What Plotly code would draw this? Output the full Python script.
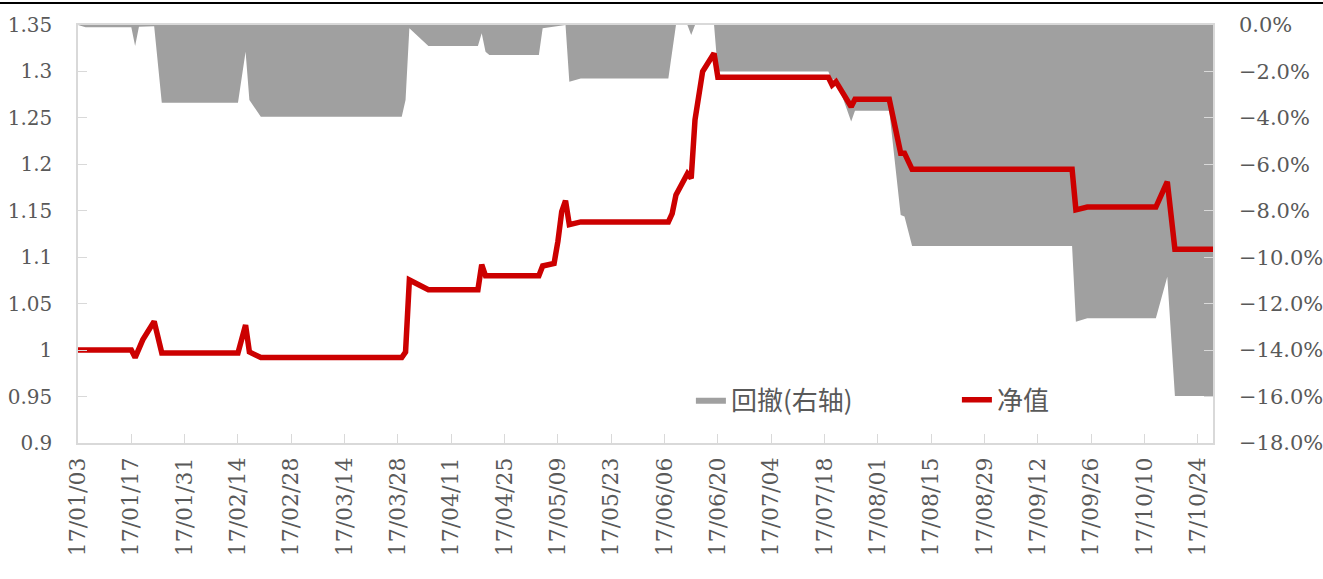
import plotly.graph_objects as go

# Net value (净值) vertices
nav_dates = [
    "2017-01-03", "2017-01-17", "2017-01-18", "2017-01-20", "2017-01-23", "2017-01-25",
    "2017-02-14", "2017-02-16", "2017-02-17", "2017-02-20", "2017-03-29", "2017-03-30",
    "2017-03-31", "2017-04-05", "2017-04-18", "2017-04-19", "2017-04-20", "2017-05-04",
    "2017-05-05", "2017-05-08", "2017-05-09", "2017-05-10", "2017-05-11", "2017-05-12",
    "2017-05-15", "2017-06-07", "2017-06-08", "2017-06-09", "2017-06-12", "2017-06-13",
    "2017-06-14", "2017-06-16", "2017-06-19", "2017-06-20", "2017-07-19", "2017-07-20",
    "2017-07-21", "2017-07-25", "2017-07-26", "2017-08-04", "2017-08-07", "2017-08-08",
    "2017-08-10", "2017-09-21", "2017-09-22", "2017-09-25", "2017-10-13", "2017-10-16",
    "2017-10-18", "2017-10-28",
]
nav_values = [
    1.000, 1.000, 0.992, 1.011, 1.031, 0.997,
    0.997, 1.027, 0.998, 0.992, 0.992, 0.998,
    1.0755, 1.065, 1.065, 1.092, 1.080, 1.080,
    1.0906, 1.0934, 1.117, 1.149, 1.161, 1.135,
    1.138, 1.138, 1.147, 1.167, 1.190, 1.185,
    1.248, 1.300, 1.3195, 1.2937, 1.2937, 1.2854,
    1.289, 1.262, 1.270, 1.270, 1.212, 1.212,
    1.1946, 1.1946, 1.151, 1.154, 1.154, 1.1813,
    1.1085, 1.1085,
]

# Drawdown (回撤, right axis) vertices, in percent
dd_dates = [
    "2017-01-03", "2017-01-05", "2017-01-17", "2017-01-18", "2017-01-19", "2017-01-23",
    "2017-01-25", "2017-02-14", "2017-02-16", "2017-02-17", "2017-02-20", "2017-03-29",
    "2017-03-30", "2017-03-31", "2017-04-05", "2017-04-18", "2017-04-19", "2017-04-20",
    "2017-04-21", "2017-05-04", "2017-05-05", "2017-05-08", "2017-05-11", "2017-05-12",
    "2017-05-15", "2017-06-07", "2017-06-09", "2017-06-12", "2017-06-13", "2017-06-14",
    "2017-06-19", "2017-06-20", "2017-07-19", "2017-07-20", "2017-07-21", "2017-07-25",
    "2017-07-26", "2017-08-04", "2017-08-07", "2017-08-08", "2017-08-10", "2017-09-21",
    "2017-09-22", "2017-09-25", "2017-10-13", "2017-10-16", "2017-10-18", "2017-10-28",
]
dd_values_pct = [
    0.0, -0.1, -0.1, -0.9, -0.07, -0.05,
    -3.35, -3.35, -1.15, -3.23, -3.95, -3.95,
    -3.23, -0.14, -0.9, -0.9, -0.36, -1.15,
    -1.29, -1.29, -0.14, -0.07, 0.0, -2.44,
    -2.3, -2.3, 0.0, 0.0, -0.43, 0.0,
    0.0, -2.0, -2.0, -2.37, -2.3, -4.16,
    -3.69, -3.69, -8.18, -8.25, -9.52, -9.52,
    -12.78, -12.63, -12.63, -10.84, -15.98, -15.98,
]

left_tickvals = [0.9, 0.95, 1.0, 1.05, 1.1, 1.15, 1.2, 1.25, 1.3, 1.35]
left_ticktext = ["0.9", "0.95", "1", "1.05", "1.1", "1.15", "1.2", "1.25", "1.3", "1.35"]

TICK_FONT = dict(family="DejaVu Serif", size=20, color="#595959")
AXIS_GRAY = "#d9d9d9"

fig = go.Figure()
fig.add_trace(go.Scatter(
    x=dd_dates, y=[v / 100 for v in dd_values_pct], name="回撤(右轴)",
    mode="lines", fill="tozeroy", fillcolor="#a0a0a0",
    line=dict(width=0, color="#a0a0a0"), yaxis="y",
))
fig.add_trace(go.Scatter(
    x=nav_dates, y=nav_values, name="净值", mode="lines",
    line=dict(color="#cc0000", width=5.5), yaxis="y2",
))

fig.update_layout(
    width=1323, height=579,
    margin=dict(l=78, r=110, t=25, b=136, autoexpand=False),
    paper_bgcolor="white", plot_bgcolor="white",
    showlegend=True,
    legend=dict(
        orientation="h", x=0.54, y=0.103, xanchor="left", yanchor="middle",
        font=dict(family="Noto Sans CJK SC", size=26, color="#595959"),
        bgcolor="rgba(0,0,0,0)", entrywidth=221,
    ),
    xaxis=dict(
        type="date", range=["2017-01-03", "2017-10-28"], automargin=False,
        tick0="2017-01-03", dtick=14 * 86400000, tickformat="%y/%m/%d",
        tickangle=-90, tickfont=dict(family="DejaVu Serif", size=22, color="#595959"),
        showline=True, linecolor=AXIS_GRAY, linewidth=1.5, mirror=True,
        ticks="inside", ticklen=9, tickcolor=AXIS_GRAY, tickwidth=1,
        showgrid=False, zeroline=False, ticklabelstandoff=4,
    ),
    yaxis=dict(
        side="right", range=[-0.18, 0], dtick=0.02, tick0=0, tickformat=".1%",
        automargin=False,
        tickfont=dict(family="DejaVu Serif", size=21, color="#595959"),
        showline=True, linecolor=AXIS_GRAY, linewidth=1.5,
        ticks="inside", ticklen=9, tickcolor=AXIS_GRAY, tickwidth=1,
        showgrid=False, zeroline=False, ticklabelstandoff=20,
    ),
    yaxis2=dict(
        overlaying="y", side="left", range=[0.9, 1.35], automargin=False,
        tickmode="array", tickvals=left_tickvals, ticktext=left_ticktext,
        tickfont=TICK_FONT,
        showline=True, linecolor=AXIS_GRAY, linewidth=1.5,
        ticks="inside", ticklen=9, tickcolor=AXIS_GRAY, tickwidth=1,
        showgrid=False, zeroline=False, ticklabelstandoff=20,
    ),
    shapes=[dict(
        type="line", xref="paper", yref="paper",
        x0=-78 / 1135, x1=(1323 - 78) / 1135, y0=(443 - 3) / 418, y1=(443 - 3) / 418,
        line=dict(color="black", width=2),
    )],
)

fig.write_html(
    "out.html",
    config={"displayModeBar": False},
    post_script="document.body.style.margin='0';document.body.style.overflow='hidden';",
)
